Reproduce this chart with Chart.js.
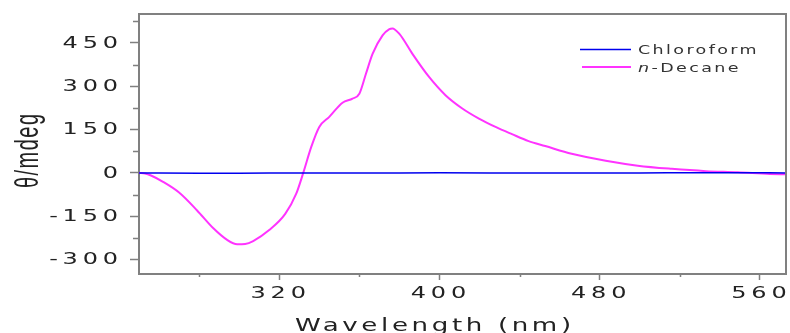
<!DOCTYPE html>
<html>
<head>
<meta charset="utf-8">
<script src="https://cdn.jsdelivr.net/npm/chart.js@4.4.0/dist/chart.umd.min.js"></script>
<style>
html, body { margin: 0; padding: 0; background: #fff; }
canvas { display: block; }
</style>
</head>
<body>
<canvas id="cdChart" width="790" height="333"></canvas>
<script>
// data
var decaneWl = [250, 253, 256, 262, 270, 279, 287, 294, 299, 303, 307, 315, 323, 328.5, 332, 336, 340, 345, 351.6, 356.6, 360, 363.3, 366.6, 371.6, 375, 376.5, 380, 386.5, 394.8, 403, 411.4, 419.7, 428, 436.2, 444.5, 452.8, 466, 483, 499, 516, 533, 549, 565, 573];
var decane   = [0, -2, -9, -31, -68, -130, -191, -232, -247, -246, -236, -198, -142, -72, 0, 90, 159, 194, 243, 257, 274, 343, 412, 476, 498, 500, 481, 412, 332, 269, 223, 188, 159, 134, 110, 93, 66, 42, 25, 14, 6, 2, -4, -5];
var chloroWl   = [250, 280, 300, 330, 360, 400, 450, 500, 550, 573];
var chloroform = [0, -1, -1.5, 0, -0.5, 0.5, -0.5, 0, 0.5, 0];

var xTicks = [320, 400, 480, 560];
var xMinor = [280, 360, 440, 520];
var yTicks = [-300, -150, 0, 150, 300, 450];
var yMinor = [-225, -75, 75, 225, 375, 525];

function toPoints(xs, ys) {
    var pts = [];
    for (var i = 0; i < xs.length; i++) pts.push({x: xs[i], y: ys[i]});
    return pts;
}

// text in this picture is stretched sideways, so draw it scaled
function wideText(ctx, str, x, y, o) {
    ctx.save();
    ctx.font = o.font;
    ctx.fillStyle = o.color || '#222';
    ctx.letterSpacing = (o.spacing || 0) + 'px';
    ctx.textAlign = 'left';
    ctx.textBaseline = o.baseline || 'alphabetic';
    var w = ctx.measureText(str).width - (o.spacing || 0);
    var sx = o.sx || 1;
    ctx.translate(x, y);
    if (o.rotate) ctx.rotate(o.rotate);
    ctx.scale(sx, o.sy || 1);
    var start = 0;
    if (o.align === 'right') start = -w;
    else if (o.align === 'center') start = -w / 2;
    ctx.fillText(str, start, 0);
    ctx.restore();
    return w * sx;
}

var decorPlugin = {
    id: 'decor',
    afterDraw: function(chart) {
        var ctx = chart.ctx;
        var a = chart.chartArea;
        var xs = chart.scales.x, ys = chart.scales.y;
        ctx.save();
        ctx.strokeStyle = '#808080';
        ctx.lineWidth = 2;
        ctx.beginPath();
        ctx.moveTo(a.left, a.top);
        ctx.lineTo(a.right, a.top);
        ctx.lineTo(a.right, a.bottom);
        ctx.stroke();

        // minor ticks
        ctx.lineWidth = 1.5;
        ctx.beginPath();
        yMinor.forEach(function(v) {
            var p = Math.round(ys.getPixelForValue(v)) + 0.5;
            ctx.moveTo(a.left - 6, p);
            ctx.lineTo(a.left, p);
        });
        xMinor.forEach(function(v) {
            var p = Math.round(xs.getPixelForValue(v)) + 0.5;
            ctx.moveTo(p, a.bottom);
            ctx.lineTo(p, a.bottom + 3);
        });
        ctx.stroke();
        ctx.restore();

        // tick labels
        var tickFont = '15px "DejaVu Sans"';
        yTicks.forEach(function(v) {
            wideText(ctx, String(v), a.left - 21, ys.getPixelForValue(v) + 1, {font: tickFont, sx: 1.6, spacing: 3, align: 'right', baseline: 'middle'});
        });
        xTicks.forEach(function(v) {
            wideText(ctx, String(v), xs.getPixelForValue(v) - 1, a.bottom + 20, {font: tickFont, sx: 1.6, spacing: 3, align: 'center', baseline: 'middle'});
        });

        // axis titles
        wideText(ctx, 'Wavelength (nm)', 433, 331, {font: '18px "DejaVu Sans"', sx: 1.45, spacing: 2.5, align: 'center'});
        wideText(ctx, 'θ/mdeg', 29, 151, {font: '20px "Liberation Sans"', sy: 1.7, spacing: 1.5, rotate: -Math.PI / 2, align: 'center', baseline: 'middle'});

        // legend
        ctx.save();
        ctx.lineWidth = 1.5;
        ctx.strokeStyle = '#0000ee';
        ctx.beginPath(); ctx.moveTo(580, 49.5); ctx.lineTo(631, 49.5); ctx.stroke();
        ctx.lineWidth = 2;
        ctx.strokeStyle = '#ff33ff';
        ctx.beginPath(); ctx.moveTo(582, 67); ctx.lineTo(631, 67); ctx.stroke();
        ctx.restore();
        var lf = '12.5px "DejaVu Sans"';
        wideText(ctx, 'Chloroform', 638, 54, {font: lf, sx: 1.4, spacing: 1.7, color: '#333'});
        var nw = wideText(ctx, 'n', 638, 72, {font: 'italic ' + lf, sx: 1.4, spacing: 1.7, color: '#333'});
        wideText(ctx, '-Decane', 638 + nw + 2.4, 72, {font: lf, sx: 1.4, spacing: 1.7, color: '#333'});
    }
};

var cdChart = new Chart("cdChart", {
    type: "line",
    data: {
        datasets: [{
            label: "Chloroform",
            data: toPoints(chloroWl, chloroform),
            borderColor: "#0000ee",
            borderWidth: 1.5,
            pointRadius: 0,
            cubicInterpolationMode: "monotone",
            fill: false
        }, {
            label: "n-Decane",
            data: toPoints(decaneWl, decane),
            borderColor: "#ff33ff",
            borderWidth: 2,
            pointRadius: 0,
            cubicInterpolationMode: "monotone",
            fill: false
        }]
    },
    options: {
        responsive: false,
        animation: false,
        devicePixelRatio: 1,
        layout: { padding: { left: 0, top: 14, right: 4, bottom: 0 } },
        plugins: {
            legend: { display: false },
            tooltip: { enabled: false }
        },
        scales: {
            x: {
                type: "linear",
                min: 250,
                max: 573,
                afterBuildTicks: function(s) { s.ticks = xTicks.map(function(v) { return {value: v}; }); },
                afterFit: function(s) { s.height = 59; },
                ticks: { display: false },
                grid: { drawOnChartArea: false, tickLength: 6, color: "#808080", tickWidth: 1.5 },
                border: { display: true, color: "#808080", width: 2 }
            },
            y: {
                type: "linear",
                min: -350,
                max: 550,
                afterBuildTicks: function(s) { s.ticks = yTicks.map(function(v) { return {value: v}; }); },
                afterFit: function(s) { s.width = 139; },
                ticks: { display: false },
                grid: { drawOnChartArea: false, tickLength: 9, color: "#808080", tickWidth: 1.5 },
                border: { display: true, color: "#808080", width: 2 }
            }
        }
    },
    plugins: [decorPlugin]
});
</script>
</body>
</html>
